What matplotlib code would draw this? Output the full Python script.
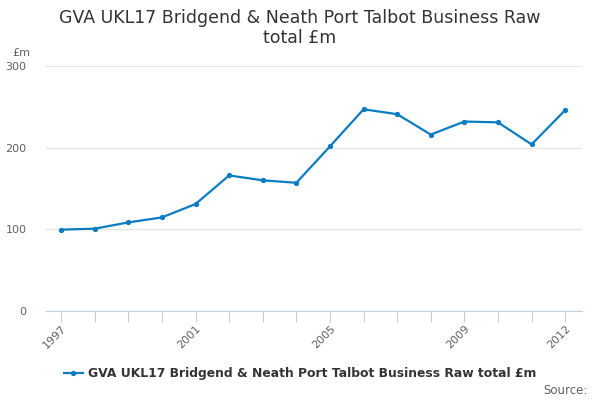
import matplotlib.pyplot as plt

years = list(range(1997, 2013))
values = [99.6, 100.8, 108.5, 114.6, 131, 166, 160, 157, 201.6, 247, 241, 216, 232, 231, 204, 246]
tick_years = [1997, 2001, 2005, 2009, 2012]
series_name = "GVA UKL17 Bridgend & Neath Port Talbot Business Raw total £m"

fig = plt.figure(figsize=(6, 4), dpi=100)
ax = fig.add_axes([0.0767, 0.2225, 0.8933, 0.6125])

line_color = "#0a7cc1"
ax.plot(years, values, color=line_color, lw=1.6, marker="o", ms=2.8)

ax.set_ylim(0, 300)
ax.set_yticks([0, 100, 200, 300])
ax.set_xlim(1996.55, 2012.5)
ax.set_xticks(years, minor=False)
ax.set_xticklabels([str(y) if y in tick_years else "" for y in years],
                   rotation=45, ha="right", rotation_mode="anchor")

ax.grid(axis="y", color="#e6e6e6", lw=1)
ax.set_axisbelow(True)
for s in ["top", "right", "left"]:
    ax.spines[s].set_visible(False)
ax.spines["bottom"].set_color("#c0d0e0")
ax.tick_params(axis="y", length=0, labelsize=8, labelcolor="#606060", pad=14)
ax.tick_params(axis="x", length=8, color="#c0d0e0", labelsize=8, labelcolor="#606060", pad=1)

fig.text(0.5, 0.977, "GVA UKL17 Bridgend & Neath Port Talbot Business Raw\ntotal £m",
         ha="center", va="top", fontsize=12.5, color="#333333", linespacing=1.15)
fig.text(0.02, 0.868, "£m", fontsize=8, color="#606060", va="center")

handle, = ax.plot([], [], color=line_color, lw=1.6, marker="o", ms=2.8)
fig.legend([handle], [series_name], loc="center", bbox_to_anchor=(0.5, 0.065),
           frameon=False, prop={"size": 8.9, "weight": "bold"}, labelcolor="#333333",
           handlelength=1.5, handletextpad=0.4)
fig.text(0.98, 0.025, "Source:", ha="right", va="center", fontsize=8.5, color="#606060")

fig.savefig("out.png", dpi=100)
